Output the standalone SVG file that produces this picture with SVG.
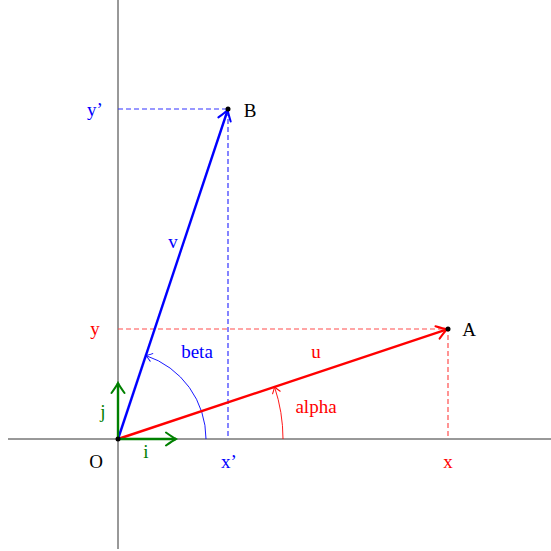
<svg xmlns="http://www.w3.org/2000/svg" width="551" height="551" viewBox="0 0 551 551">
<defs>
<style>
text{font-family:"Liberation Serif","Times New Roman",serif;font-size:19px;text-anchor:middle}
.axis{stroke:#333;stroke-width:1;fill:none}
.dr{stroke:#ff4d4d;stroke-width:1.2;stroke-dasharray:5,3;fill:none}
.db{stroke:#3333ff;stroke-width:1.2;stroke-dasharray:5,3;fill:none}
.red{fill:#ff0000}
.blue{fill:#0000ff}
.green{fill:#008000}
</style>
<marker id="ar" viewBox="-12 -8 14 16" markerWidth="14" markerHeight="16" refX="0" refY="0" orient="auto" markerUnits="userSpaceOnUse">
<path d="M-10 -6.5 Q-3 -1.5 0 0 Q-3 1.5 -10 6.5" fill="none" stroke="#ff0000" stroke-width="2" stroke-linecap="round"/>
</marker>
<marker id="ab" viewBox="-12 -8 14 16" markerWidth="14" markerHeight="16" refX="0" refY="0" orient="auto" markerUnits="userSpaceOnUse">
<path d="M-10 -6.5 Q-3 -1.5 0 0 Q-3 1.5 -10 6.5" fill="none" stroke="#0000ff" stroke-width="2" stroke-linecap="round"/>
</marker>
<marker id="ag" viewBox="-12 -8 14 16" markerWidth="14" markerHeight="16" refX="0" refY="0" orient="auto" markerUnits="userSpaceOnUse">
<path d="M-10 -6.5 Q-3 -1.5 0 0 Q-3 1.5 -10 6.5" fill="none" stroke="#008000" stroke-width="2" stroke-linecap="round"/>
</marker>
<marker id="arS" viewBox="-8 -6 10 12" markerWidth="10" markerHeight="12" refX="0" refY="0" orient="auto" markerUnits="userSpaceOnUse">
<path d="M-6 -4 Q-2 -1 0 0 Q-2 1 -6 4" fill="none" stroke="#ff0000" stroke-width="1" stroke-linecap="round"/>
</marker>
<marker id="abS" viewBox="-8 -6 10 12" markerWidth="10" markerHeight="12" refX="0" refY="0" orient="auto" markerUnits="userSpaceOnUse">
<path d="M-6 -4 Q-2 -1 0 0 Q-2 1 -6 4" fill="none" stroke="#0000ff" stroke-width="1" stroke-linecap="round"/>
</marker>
</defs>
<g id="axes">
<line class="axis" x1="8" y1="439" x2="551" y2="439"/>
<line class="axis" x1="118" y1="0" x2="118" y2="549"/>
</g>
<g id="connectors">
<path class="dr" d="M118 329 H448 V439"/>
<path class="db" d="M118 109 H228 V439"/>
<path d="M283 439 A165 165 0 0 0 274.5 386.8" fill="none" stroke="#ff0000" stroke-width="0.9" marker-end="url(#arS)"/>
<path d="M206 439 A88 88 0 0 0 145.8 355.5" fill="none" stroke="#0000ff" stroke-width="0.9" marker-end="url(#abS)"/>
<line x1="118" y1="439" x2="447" y2="329.3" stroke="#ff0000" stroke-width="2.4" marker-end="url(#ar)"/>
<line x1="118" y1="439" x2="227.7" y2="110" stroke="#0000ff" stroke-width="2.4" marker-end="url(#ab)"/>
<line x1="118" y1="439" x2="176" y2="439" stroke="#008000" stroke-width="2.4" marker-end="url(#ag)"/>
<line x1="118" y1="439" x2="118" y2="383" stroke="#008000" stroke-width="2.4" marker-end="url(#ag)"/>
</g>
<g id="O"><circle cx="118" cy="439" r="2.5" fill="#000"/><text x="96" y="468">O</text></g>
<g id="A"><circle cx="448" cy="329" r="2.5" fill="#000"/><text x="469" y="336">A</text></g>
<g id="B"><circle cx="228" cy="109" r="2.5" fill="#000"/><text x="250" y="117">B</text></g>
<g id="labels">
<text class="green" x="146" y="458">i</text>
<text class="green" x="103" y="418">j</text>
<text class="blue" x="229" y="468">x’</text>
<text class="red" x="448" y="468">x</text>
<text class="red" x="95" y="335">y</text>
<text class="blue" x="95" y="116">y’</text>
<text class="red" x="316" y="358">u</text>
<text class="blue" x="173" y="248">v</text>
<text class="red" x="316" y="413">alpha</text>
<text class="blue" x="197" y="358">beta</text>
</g>
</svg>
